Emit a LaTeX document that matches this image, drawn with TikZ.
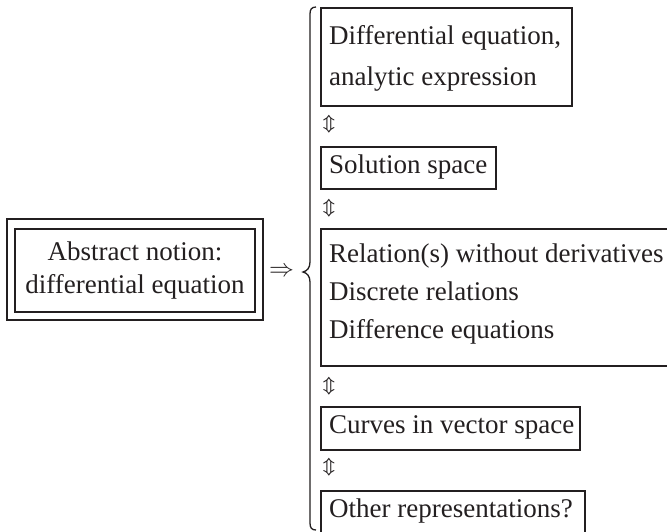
\documentclass[tikz,border=0pt]{standalone}
\usepackage{amssymb}
\usepackage{fontspec}
\setmainfont{Liberation Serif}
\definecolor{ink}{HTML}{231F20}
\begin{document}
\begin{tikzpicture}[x=1pt,y=-1pt,
  frame/.style={draw=ink, line width=1.6pt, anchor=north west, inner sep=0pt},
  txt/.style={text=ink, anchor=west, inner sep=0pt, align=left,
    font=\fontsize{27}{41}\selectfont},
  arr/.style={text=ink, inner sep=0pt, font=\fontsize{16}{16}\selectfont\boldmath}
]
\clip (0,0) rectangle (667,531);
\fill[white] (0,0) rectangle (667,531);

% left double box
\node[draw=ink, line width=1.6pt, minimum width=256pt, minimum height=101pt] (outer) at (135,269.5) {};
\node[draw=ink, line width=1.6pt, minimum width=240pt, minimum height=83pt, text=ink,
  align=center, inner sep=0pt, font=\fontsize{27}{33}\selectfont] (abs) at (135,270.5)
  {Abstract notion:\\differential equation};

\node[text=ink, inner sep=0pt, font=\fontsize{23}{23}\selectfont] (imp) at (281.5,272) {$\Rightarrow$};

% brace
\draw[ink, line width=1.3pt] (316,7) .. controls (311.5,7) and (310,9.5) .. (310,14)
  -- (310,262) .. controls (310,268) and (307,271) .. (303,272)
  .. controls (307,273) and (310,276) .. (310,282)
  -- (310,523) .. controls (310,527.5) and (311.5,530) .. (316,530);

% right boxes
\node[frame, minimum width=251pt, minimum height=98pt] (b1) at (320,7) {};
\node[txt] (t1) at (329,58) {Differential equation,\\analytic expression};
\node[arr] (a1) at (329,124) {$\Updownarrow$};
\node[frame, minimum width=175pt, minimum height=42pt] (b2) at (320,146) {};
\node[txt] (t2) at (329,167) {Solution space};
\node[arr] (a2) at (329,208) {$\Updownarrow$};
\node[frame, minimum width=400pt, minimum height=137pt] (b3) at (320,228) {};
\node[txt, font=\fontsize{27}{38}\selectfont] (t3) at (329,294)
  {Relation(s) without derivatives\\Discrete relations\\Difference equations};
\node[arr] (a3) at (329,386) {$\Updownarrow$};
\node[frame, minimum width=259pt, minimum height=43pt] (b4) at (320,406) {};
\node[txt] (t4) at (329,427.5) {Curves in vector space};
\node[arr] (a4) at (329,467) {$\Updownarrow$};
\node[frame, minimum width=264pt, minimum height=42pt] (b5) at (320,490) {};
\node[txt] (t5) at (329,511) {Other representations?};
\end{tikzpicture}
\end{document}
